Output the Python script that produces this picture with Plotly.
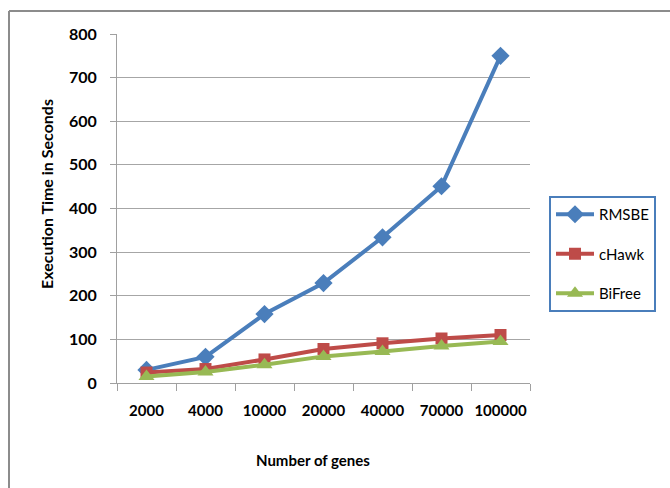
import plotly.graph_objects as go

categories = ["2000", "4000", "10000", "20000", "40000", "70000", "100000"]
rmsbe = [30, 60, 158, 229, 334, 451, 750]
chawk = [24, 32, 54, 78, 91, 102, 110]
bifree = [15, 25, 42, 61, 72, 85, 95]
y_ticks = [0, 100, 200, 300, 400, 500, 600, 700, 800]

W, H = 670, 488
L, R, T, B = 117, 530, 34, 383
pw, ph = R - L, B - T

def px(x):
    return (x - L) / pw

def py(y):
    return (B - y) / ph

FONT = "Lato"

fig = go.Figure()
fig.add_trace(go.Scatter(x=categories, y=rmsbe, name="RMSBE", mode="lines+markers",
                         line=dict(color="#4a7ebb", width=4),
                         marker=dict(symbol="diamond", size=14, color="#4a7ebb"),
                         legendgroup="a"))
fig.add_trace(go.Scatter(x=categories, y=chawk, name="cHawk", mode="lines+markers",
                         line=dict(color="#be4b48", width=4),
                         marker=dict(symbol="square", size=12, color="#be4b48"),
                         legendgroup="b"))
fig.add_trace(go.Scatter(x=categories, y=bifree, name="BiFree", mode="lines+markers",
                         line=dict(color="#98b954", width=4),
                         marker=dict(symbol="triangle-up", size=14, color="#98b954"),
                         legendgroup="c"))

fig.update_layout(
    width=W, height=H,
    margin=dict(l=L, r=W - R, t=T, b=H - B, pad=0),
    paper_bgcolor="white", plot_bgcolor="white",
    font=dict(family=FONT, color="black"),
    showlegend=True,
    legend=dict(x=px(549), y=py(196), xanchor="left", yanchor="top",
                bordercolor="#4a7ebb", borderwidth=2, bgcolor="white",
                font=dict(size=15, family=FONT), tracegroupgap=17,
                traceorder="grouped", itemwidth=38,
                entrywidth=110, entrywidthmode="pixels"),
    xaxis=dict(type="category", range=[-0.5, 6.5], showgrid=False,
               showline=True, linecolor="#a0a0a0", linewidth=1,
               ticks="outside", tickson="boundaries", ticklen=7, tickcolor="#a0a0a0",
               tickfont=dict(size=15, family=FONT, weight="bold"), zeroline=False,
               tickangle=0, ticklabelstandoff=14),
    yaxis=dict(range=[0, 800], tickvals=y_ticks, showgrid=True, gridcolor="#a6a6a6",
               gridwidth=1, showline=True, linecolor="#a0a0a0", linewidth=1,
               ticks="outside", ticklen=6, tickcolor="#a0a0a0",
               tickfont=dict(size=16, family=FONT, weight="bold"), zeroline=False,
               ticklabelstandoff=10),
    annotations=[
        dict(text="Execution Time in Seconds", x=px(46), y=py(194), xref="paper", yref="paper",
             xanchor="center", yanchor="middle",
             textangle=-90, showarrow=False, font=dict(size=16, family=FONT, weight="bold")),
        dict(text="Number of genes", x=px(313), y=py(460), xref="paper", yref="paper",
             xanchor="center", yanchor="middle",
             showarrow=False, font=dict(size=15, family=FONT, weight="bold")),
    ],
    shapes=[
        dict(type="line", xref="paper", yref="paper", x0=px(9), x1=px(672), y0=py(11), y1=py(11),
             line=dict(color="#8c8c8c", width=2)),
        dict(type="line", xref="paper", yref="paper", x0=px(9), x1=px(9), y0=py(11), y1=py(490),
             line=dict(color="#8c8c8c", width=2)),
    ],
)

fig.write_html("out.html", config={"displayModeBar": False},
               post_script="document.body.style.margin='0';document.body.style.overflow='hidden';")
